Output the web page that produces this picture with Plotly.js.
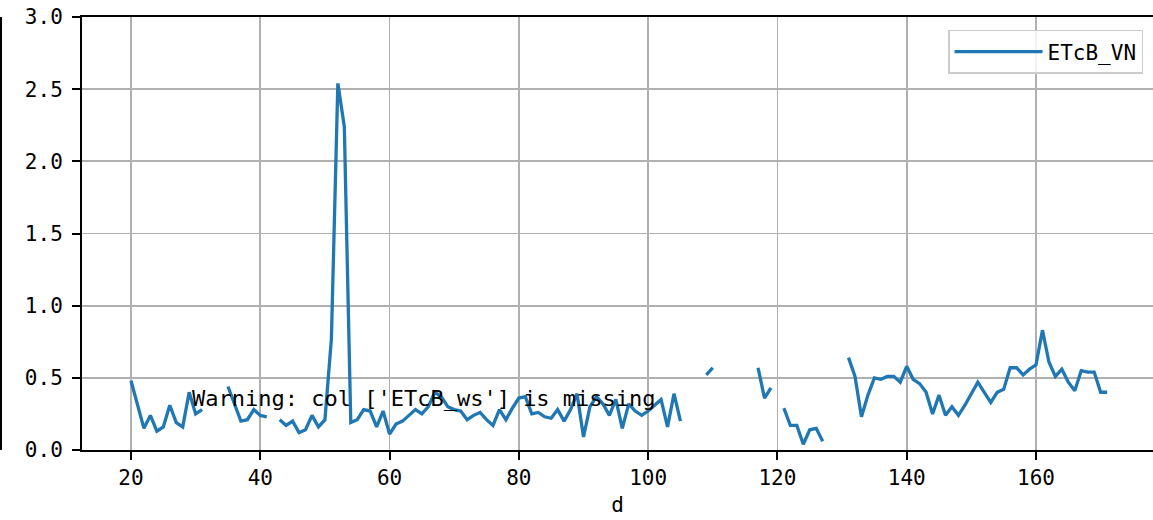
<!DOCTYPE html>
<html>
<head>
<meta charset="utf-8">
<script src="https://cdn.plot.ly/plotly-3.0.1.min.js"></script>
<style>html,body{margin:0;padding:0;background:#fff;}#chart{width:1153px;height:520px;}</style>
</head>
<body>
<div id="chart"></div>
<script>
const days = [];
for (let d = 20; d <= 171; d++) days.push(d);

const etcbVN = [
  0.48, 0.31, 0.15, 0.24, 0.13, 0.16, 0.31, 0.19, 0.16, 0.40, // 20-29
  0.25, 0.28, null, null, null, 0.44, 0.32, 0.20, 0.21, 0.28, // 30-39
  0.24, 0.23, null, 0.21, 0.17, 0.20, 0.12, 0.14, 0.24, 0.16, // 40-49
  0.21, 0.77, 2.54, 2.24, 0.19, 0.21, 0.28, 0.27, 0.16, 0.27, // 50-59
  0.11, 0.18, 0.20, 0.24, 0.28, 0.25, 0.30, 0.40, 0.37, 0.30, // 60-69
  0.28, 0.27, 0.21, 0.24, 0.26, 0.21, 0.17, 0.28, 0.21, 0.29, // 70-79
  0.36, 0.37, 0.25, 0.26, 0.23, 0.22, 0.28, 0.20, 0.28, 0.39, // 80-89
  0.09, 0.30, 0.37, 0.32, 0.24, 0.35, 0.15, 0.32, 0.27, 0.24, // 90-99
  0.27, 0.31, 0.35, 0.16, 0.39, 0.20, null, null, null, 0.52, // 100-109
  0.57, null, null, null, null, null, null, 0.57, 0.36, 0.43, // 110-119
  null, 0.29, 0.17, 0.17, 0.04, 0.14, 0.15, 0.06, null, null, // 120-129
  null, 0.64, 0.51, 0.23, 0.38, 0.50, 0.49, 0.51, 0.51, 0.47, // 130-139
  0.58, 0.49, 0.46, 0.40, 0.25, 0.38, 0.24, 0.30, 0.24, 0.31, // 140-149
  0.39, 0.47, 0.40, 0.33, 0.40, 0.42, 0.57, 0.57, 0.52, 0.56, // 150-159
  0.59, 0.83, 0.61, 0.51, 0.56, 0.47, 0.41, 0.55, 0.54, 0.54, // 160-169
  0.40, 0.40                                                  // 170-171
];

const seriesName = 'ETcB_VN';
const xTicks = [20, 40, 60, 80, 100, 120, 140, 160];
const yTicks = [0, 0.5, 1.0, 1.5, 2.0, 2.5, 3.0];
const yTickLabels = ['0.0', '0.5', '1.0', '1.5', '2.0', '2.5', '3.0'];
const xTitle = 'd';
const warningText = "Warning: col ['ETcB_ws'] is missing";

const FONT = 'DejaVu Sans Mono, monospace';

const trace = {
  x: days,
  y: etcbVN,
  type: 'scatter',
  mode: 'lines',
  name: seriesName,
  connectgaps: false,
  line: {color: '#1f77b4', width: 3.3}
};

const layout = {
  width: 1153,
  height: 520,
  margin: {l: 82, r: 0, t: 17, b: 70},
  paper_bgcolor: '#fff',
  plot_bgcolor: '#fff',
  font: {family: FONT, size: 21, color: '#000'},
  showlegend: true,
  legend: {
    x: 0.9907, xanchor: 'right', y: 0.97, yanchor: 'top',
    bgcolor: 'rgba(255,255,255,0.8)', bordercolor: '#cccccc', borderwidth: 1.5,
    itemwidth: 88,
    font: {family: FONT, size: 21, color: '#000'}
  },
  xaxis: {
    range: [12.42, 178.1],
    tickvals: xTicks,
    ticks: 'outside', ticklen: 8, tickwidth: 2, tickcolor: '#000',
    showline: true, linecolor: '#000', linewidth: 2, mirror: true,
    showgrid: true, gridcolor: '#b0b0b0', gridwidth: 1.8,
    zeroline: false,
    tickfont: {family: FONT, size: 21},
    title: {text: xTitle, font: {family: FONT, size: 21}, standoff: 8}
  },
  yaxis: {
    range: [0, 3],
    tickvals: yTicks,
    ticktext: yTickLabels,
    ticks: 'outside', ticklen: 8, tickwidth: 2, tickcolor: '#000',
    ticklabelstandoff: 5,
    showline: true, linecolor: '#000', linewidth: 2, mirror: false,
    showgrid: true, gridcolor: '#b0b0b0', gridwidth: 1.8,
    zeroline: false,
    tickfont: {family: FONT, size: 21}
  },
  annotations: [{
    text: warningText,
    xref: 'paper', yref: 'y',
    x: (190 - 82) / 1071, xanchor: 'left',
    y: 0.36, yanchor: 'middle',
    showarrow: false,
    font: {family: FONT, size: 22, color: '#000'}
  }],
  shapes: [{
    type: 'line', xref: 'paper', yref: 'paper',
    x0: (1 - 82) / 1071, x1: (1 - 82) / 1071, y0: 0, y1: 1,
    line: {color: '#000', width: 2}
  }]
};

Plotly.newPlot('chart', [trace], layout, {displayModeBar: false, staticPlot: true});
</script>
</body>
</html>
